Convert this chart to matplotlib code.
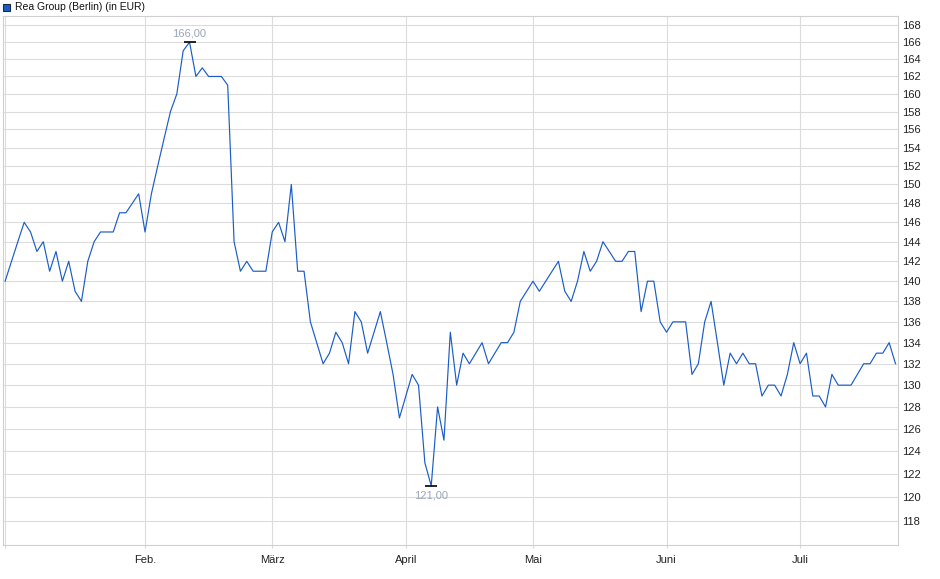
import numpy as np
import matplotlib
matplotlib.use("Agg")
import matplotlib.pyplot as plt
from matplotlib.patches import Rectangle
from matplotlib.ticker import FixedLocator, FixedFormatter, NullLocator

plt.rcParams['font.family'] = ['Liberation Sans', 'DejaVu Sans']

# Schlusskurse pro Handelstag (Jan - Jul)
prices = [140, 142, 144, 146, 145, 143, 144, 141, 143, 140,
          142, 139, 138, 142, 144, 145, 145, 145, 147, 147,
          148, 149, 145, 149, 152, 155, 158, 160, 165, 166,
          162, 163, 162, 162, 162, 161, 144, 141, 142, 141,
          141, 141, 145, 146, 144, 150, 141, 141, 136, 134,
          132, 133, 135, 134, 132, 137, 136, 133, 135, 137,
          134, 131, 127, 129, 131, 130, 123, 121, 128, 125,
          135, 130, 133, 132, 133, 134, 132, 133, 134, 134,
          135, 138, 139, 140, 139, 140, 141, 142, 139, 138,
          140, 143, 141, 142, 144, 143, 142, 142, 143, 143,
          137, 140, 140, 136, 135, 136, 136, 136, 131, 132,
          136, 138, 134, 130, 133, 132, 133, 132, 132, 129,
          130, 130, 129, 131, 134, 132, 133, 129, 129, 128,
          131, 130, 130, 130, 131, 132, 132, 133, 133, 134,
          132]

# erster Handelstag je Monat (Index)
month_idx = [0, 22, 42, 63, 83, 104, 125]
month_lbl = ['', 'Feb.', 'März', 'April', 'Mai', 'Juni', 'Juli']
y_ticks = list(range(118, 170, 2))

x = np.arange(len(prices))
y = np.array(prices, dtype=float)

fig = plt.figure(figsize=(9.4, 5.79), dpi=100)
W, H = 940, 579
ax = fig.add_axes([2.7 / W, 1 - 545 / H, (898.3 - 2.7) / W, (545 - 16.3) / H])

ax.plot(x, y, color='#1a5cc8', lw=0.85, zorder=3)

ax.set_yscale('log')
ax.set_ylim(116.0, 169.1)
ax.set_xlim(-0.38, 140.44)

ax.yaxis.set_major_locator(FixedLocator(y_ticks))
ax.yaxis.set_major_formatter(FixedFormatter([str(t) for t in y_ticks]))
ax.yaxis.set_minor_locator(NullLocator())
ax.yaxis.tick_right()
ax.xaxis.set_major_locator(FixedLocator(month_idx))
ax.xaxis.set_major_formatter(FixedFormatter(month_lbl))

ax.tick_params(axis='y', length=0, pad=3, labelsize=8, labelcolor='#222222')
ax.tick_params(axis='x', length=2, color='#d9d9d9', pad=5, labelsize=8, labelcolor='#222222')

ax.grid(True, color='#dcdcdc', lw=0.8, zorder=0)
for s in ax.spines.values():
    s.set_color('#d0d0d0')
    s.set_linewidth(0.8)

# Hoch / Tief
imax = int(np.argmax(y))
imin = int(np.argmin(y))
ax.plot([x[imax]], [y[imax]], marker='_', color='black', ms=8, mew=1.2, zorder=4)
ax.plot([x[imin]], [y[imin]], marker='_', color='black', ms=8, mew=1.2, zorder=4)
ax.annotate(f"{y[imax]:.2f}".replace('.', ','), (x[imax], y[imax]),
            xytext=(0, 9), textcoords='offset pixels', ha='center', va='center',
            fontsize=8, color='#9aa6b8')
ax.annotate(f"{y[imin]:.2f}".replace('.', ','), (x[imin], y[imin]),
            xytext=(0, -10), textcoords='offset pixels', ha='center', va='center',
            fontsize=8, color='#9aa6b8')

# Legende oben links
fig.patches.append(Rectangle((3 / W, 1 - 11 / H), 7 / W, 7 / H, transform=fig.transFigure,
                             facecolor='#1a5cc8', edgecolor='#1f2a44', lw=0.8))
fig.text(15 / W, 1 - 7.5 / H, 'Rea Group (Berlin) (in EUR)', fontsize=7.5,
         color='#111111', va='center', ha='left')

fig.savefig('out.png', dpi=100)
